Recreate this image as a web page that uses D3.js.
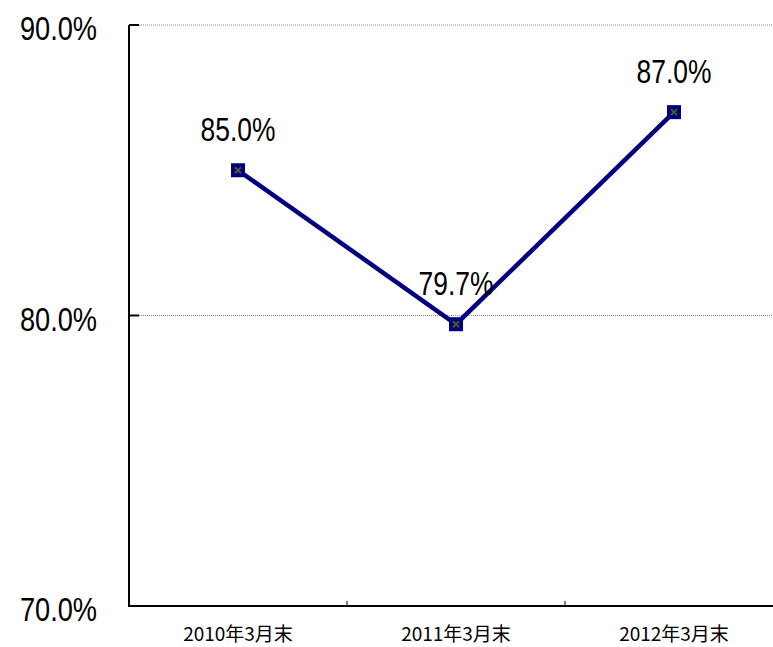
<!DOCTYPE html>
<html>
<head>
<meta charset="utf-8">
<script src="https://cdn.jsdelivr.net/npm/d3@7"></script>
<style>
  body { margin: 0; background: #fff; }
</style>
</head>
<body>
<svg id="chart" width="773" height="647"></svg>
<script>
'use strict';

const categories = ['2010年3月末', '2011年3月末', '2012年3月末'];
const values = [85.0, 79.7, 87.0];
const yTicks = [70, 80, 90];

const svg = d3.select('#chart');

const x = d3.scaleBand().domain(categories).range([129, 783]);
const y = d3.scaleLinear().domain([70, 90]).range([606, 25]);

// squeeze text horizontally to mimic a narrow face
function narrow(sel, k) {
    sel.each(function() {
        const w = this.getComputedTextLength();
        d3.select(this)
            .attr('textLength', w * k)
            .attr('lengthAdjust', 'spacingAndGlyphs');
    });
}

// grid lines
svg.selectAll('line.grid')
    .data(yTicks.filter(function(d) {return d > 70;}))
    .enter()
    .append('line')
    .attr('x1', 129).attr('x2', 773)
    .attr('y1', function(d) {return y(d);})
    .attr('y2', function(d) {return y(d);})
    .style('stroke', '#888')
    .style('stroke-width', 1)
    .style('stroke-dasharray', '1,1');

// y axis
const yAxis = svg.append('g').attr('transform', 'translate(129,0)');
yAxis.append('line')
    .attr('x1', 0).attr('x2', 0)
    .attr('y1', y(90)).attr('y2', y(70))
    .style('stroke', '#000').style('stroke-width', 2);
yAxis.selectAll('line.tick')
    .data(yTicks)
    .enter()
    .append('line')
    .attr('x1', 0).attr('x2', 10)
    .attr('y1', function(d) {return y(d);})
    .attr('y2', function(d) {return y(d);})
    .style('stroke', '#000').style('stroke-width', 2);
svg.selectAll('text.ylab')
    .data(yTicks)
    .enter()
    .append('text')
    .attr('x', 97)
    .attr('y', function(d) {return y(d) + 15;})
    .attr('text-anchor', 'end')
    .style('font-family', '"Liberation Sans", sans-serif')
    .style('font-size', '34px')
    .text(function(d) {return d.toFixed(1) + '%';})
    .call(narrow, 0.8);

// x axis
svg.append('line')
    .attr('x1', 128).attr('x2', 773)
    .attr('y1', y(70)).attr('y2', y(70))
    .style('stroke', '#000').style('stroke-width', 2);
svg.selectAll('line.xtick')
    .data(categories.slice(1))
    .enter()
    .append('line')
    .attr('x1', function(d) {return x(d);})
    .attr('x2', function(d) {return x(d);})
    .attr('y1', y(70)).attr('y2', y(70) - 5)
    .style('stroke', '#000').style('stroke-width', 1);
svg.selectAll('text.xlab')
    .data(categories)
    .enter()
    .append('text')
    .attr('x', function(d) {return x(d) + x.bandwidth() / 2;})
    .attr('y', 641)
    .attr('text-anchor', 'middle')
    .style('font-family', '"Noto Sans CJK JP", sans-serif')
    .style('font-size', '19px')
    .text(function(d) {return d;});

// line
const line = d3.line()
    .x(function(d, i) {return x(categories[i]) + x.bandwidth() / 2;})
    .y(function(d) {return y(d);});

svg.append('path')
    .datum(values)
    .attr('d', line)
    .style('fill', 'none')
    .style('stroke', '#000080')
    .style('stroke-width', 4.5);

// markers
const pts = svg.selectAll('g.pt')
    .data(values)
    .enter()
    .append('g')
    .attr('transform', function(d, i) {
        return 'translate(' + (x(categories[i]) + x.bandwidth() / 2) + ',' + y(d) + ')';
    });
pts.append('rect')
    .attr('x', -7).attr('y', -7)
    .attr('width', 14).attr('height', 14)
    .style('fill', '#000080');
pts.append('path')
    .attr('d', 'M-3,-3L3,3M-3,3L3,-3')
    .style('stroke', '#4a5a20')
    .style('stroke-width', 2);

// data labels
svg.selectAll('text.dlab')
    .data(values)
    .enter()
    .append('text')
    .attr('x', function(d, i) {return x(categories[i]) + x.bandwidth() / 2;})
    .attr('y', function(d) {return y(d) - 29;})
    .attr('text-anchor', 'middle')
    .style('font-family', '"Liberation Sans", sans-serif')
    .style('font-size', '33px')
    .text(function(d) {return d.toFixed(1) + '%';})
    .call(narrow, 0.8);
</script>
</body>
</html>
